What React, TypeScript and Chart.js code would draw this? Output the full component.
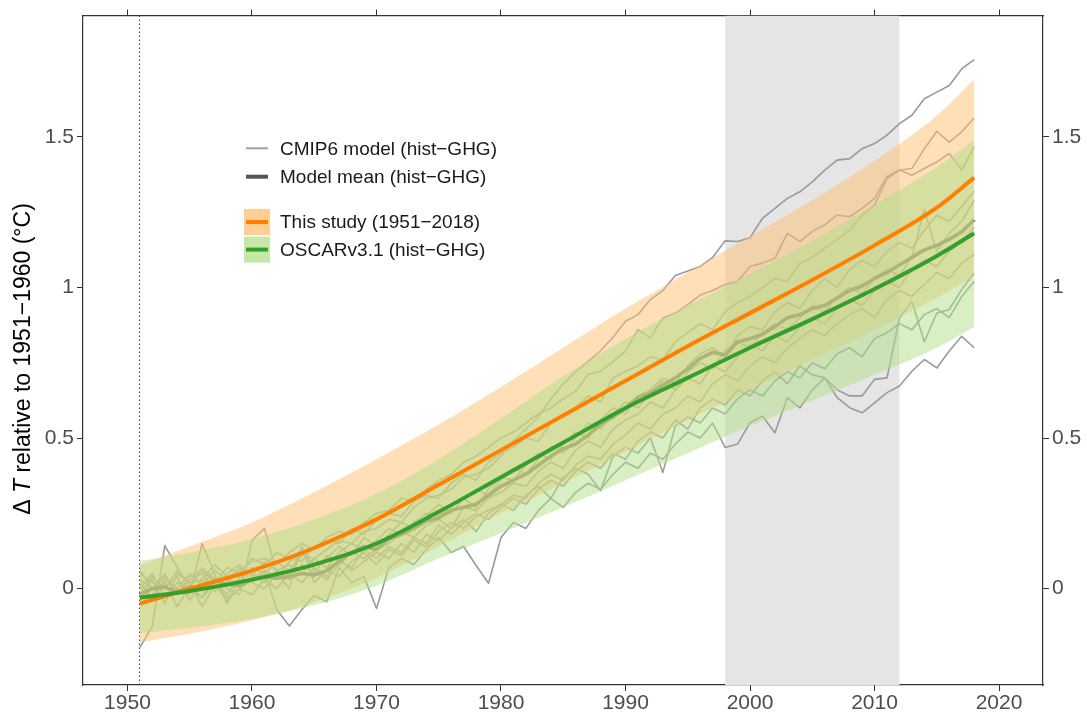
import React, { useEffect, useRef } from "react";
import { Chart, registerables } from "chart.js";

Chart.register(...registerables);

// ---- axes ----
const X_MIN = 1946.43;
const X_MAX = 2023.53;
const Y_MIN = -0.32;
const Y_MAX = 1.903;
const xTicks = [1950, 1960, 1970, 1980, 1990, 2000, 2010, 2020];
const yTicks = [0, 0.5, 1, 1.5];
const yTickLabels = ["0", "0.5", "1", "1.5"];

// reference period start and the 1998–2012 hiatus window
const referenceStart = 1951;
const hiatusStart = 1998;
const hiatusEnd = 2012;

// ---- annual CMIP6 hist-GHG model runs, 1951–2018 ----
const modelYears = Array.from({ length: 68 }, (_, i) => 1951 + i);

const cmipA = [
  0.02, -0.03, 0.03, 0.0, 0.05, 0.01, 0.06, 0.03, 0.02, 0.07,
  0.05, 0.09, 0.06, 0.11, 0.1, 0.13, 0.16, 0.15, 0.19, 0.2,
  0.23, 0.22, 0.27, 0.3, 0.31, 0.33, 0.37, 0.38, 0.4, 0.44,
  0.49, 0.53, 0.57, 0.63, 0.68, 0.72, 0.755, 0.79, 0.835, 0.888,
  0.91, 0.96, 0.99, 1.04, 1.055, 1.07, 1.1, 1.155, 1.153, 1.165,
  1.23, 1.263, 1.296, 1.318, 1.351, 1.39, 1.423, 1.428, 1.461, 1.478,
  1.506, 1.544, 1.572, 1.627, 1.649, 1.671, 1.726, 1.757,
];
const cmipB = [
  -0.02, 0.04, 0.0, 0.06, 0.02, 0.03, 0.08, 0.04, 0.06, 0.09,
  0.1, 0.08, 0.12, 0.15, 0.13, 0.17, 0.19, 0.18, 0.22, 0.25,
  0.26, 0.3, 0.29, 0.33, 0.36, 0.38, 0.42, 0.44, 0.47, 0.5,
  0.52, 0.55, 0.58, 0.6, 0.63, 0.656, 0.711, 0.722, 0.755, 0.789,
  0.86, 0.833, 0.899, 0.915, 0.943, 0.975, 0.99, 1.01, 1.02, 1.07,
  1.081, 1.097, 1.18, 1.153, 1.186, 1.208, 1.241, 1.235, 1.263, 1.296,
  1.368, 1.39, 1.395, 1.461, 1.519, 1.483, 1.517, 1.563,
];
const cmipC = [
  0.03, 0.0, 0.05, -0.02, 0.04, 0.06, 0.02, 0.07, 0.05, 0.1,
  0.08, 0.12, 0.1, 0.09, 0.14, 0.16, 0.15, 0.2, 0.18, 0.23,
  0.25, 0.24, 0.29, 0.31, 0.3, 0.35, 0.38, 0.36, 0.42, 0.45,
  0.47, 0.5, 0.49, 0.55, 0.58, 0.6, 0.64, 0.62, 0.7, 0.72,
  0.74, 0.77, 0.76, 0.82, 0.85, 0.88, 0.86, 0.92, 0.95, 0.97,
  1.0, 1.03, 1.02, 1.08, 1.1, 1.13, 1.16, 1.19, 1.241, 1.274,
  1.362, 1.39, 1.373, 1.395, 1.417, 1.445, 1.39, 1.467,
];
const cmipD = [
  0.0, 0.05, -0.03, 0.02, 0.0, 0.07, 0.03, -0.02, 0.04, 0.05,
  0.02, 0.06, 0.08, 0.05, 0.1, 0.07, 0.12, 0.15, 0.13, 0.16,
  0.2, 0.18, 0.22, 0.25, 0.24, 0.28, 0.3, 0.27, 0.33, 0.37,
  0.36, 0.41, 0.45, 0.43, 0.48, 0.52, 0.5, 0.56, 0.6, 0.58,
  0.64, 0.66, 0.7, 0.68, 0.74, 0.78, 0.8, 0.77, 0.84, 0.87,
  0.86, 0.92, 0.95, 0.93, 0.99, 1.03, 1.0, 1.06, 1.09, 1.07,
  1.12, 1.15, 1.13, 1.19, 1.24, 1.22, 1.27, 1.32,
];
const cmipE = [
  0.05, 0.02, 0.0, 0.04, -0.04, 0.03, 0.0, 0.05, 0.08, 0.02,
  0.06, 0.04, 0.09, 0.12, 0.08, 0.1, 0.14, 0.11, 0.17, 0.14,
  0.18, 0.22, 0.2, 0.24, 0.28, 0.25, 0.3, 0.33, 0.31, 0.36,
  0.4, 0.38, 0.43, 0.47, 0.45, 0.5, 0.55, 0.53, 0.58, 0.62,
  0.6, 0.65, 0.69, 0.66, 0.72, 0.75, 0.73, 0.79, 0.82, 0.8,
  0.85, 0.88, 0.86, 0.9, 0.94, 0.92, 0.97, 1.0, 0.98, 1.03,
  1.06, 1.04, 1.1, 1.26, 1.12, 1.18, 1.22, 1.29,
];
const cmipF = [
  -0.05, -0.02, 0.02, -0.06, 0.01, -0.03, 0.04, 0.0, -0.02, 0.16,
  0.2, 0.05, 0.0, 0.14, 0.06, 0.03, 0.08, 0.12, 0.1, 0.13,
  0.15, 0.19, 0.17, 0.21, 0.23, 0.2, 0.27, 0.26, 0.3, 0.32,
  0.35, 0.34, 0.39, 0.42, 0.4, 0.46, 0.49, 0.47, 0.53, 0.56,
  0.58, 0.62, 0.6, 0.66, 0.7, 0.68, 0.74, 0.72, 0.77, 0.81,
  0.79, 0.84, 0.82, 0.87, 0.9, 0.88, 0.93, 0.96, 0.94, 0.99,
  1.02, 1.0, 1.06, 1.09, 1.07, 1.12, 1.15, 1.2,
];
const cmipG = [
  0.01, -0.04, 0.03, 0.0, -0.02, 0.149, 0.05, -0.05, 0.04, 0.02,
  0.0, 0.05, 0.03, 0.14, 0.02, 0.06, 0.04, 0.09, 0.12, 0.08,
  0.13, 0.11, 0.16, 0.14, 0.19, 0.22, 0.2, 0.24, 0.26, 0.28,
  0.31, 0.3, 0.35, 0.38, 0.36, 0.41, 0.44, 0.43, 0.48, 0.51,
  0.55, 0.53, 0.58, 0.6, 0.64, 0.62, 0.68, 0.71, 0.69, 0.74,
  0.77, 0.75, 0.8, 0.83, 0.86, 0.84, 0.88, 0.91, 0.93, 0.9,
  0.96, 0.99, 0.97, 1.01, 1.05, 1.03, 1.08, 1.11,
];
const cmipH = [
  -0.03, 0.03, -0.05, 0.05, 0.02, -0.06, 0.01, -0.03, 0.0, -0.02,
  0.03, 0.0, 0.05, 0.02, 0.07, 0.04, 0.1, 0.06, 0.09, 0.12,
  0.1, 0.15, 0.12, 0.18, 0.16, 0.2, 0.23, 0.19, 0.25, 0.28,
  0.26, 0.31, 0.34, 0.3, 0.37, 0.4, 0.38, 0.325, 0.44, 0.47,
  0.45, 0.5, 0.386, 0.54, 0.57, 0.55, 0.6, 0.58, 0.63, 0.66,
  0.64, 0.69, 0.72, 0.7, 0.75, 0.73, 0.78, 0.8, 0.77, 0.83,
  0.85, 0.88, 0.86, 0.91, 0.93, 0.9, 0.97, 1.02,
];
const cmipI = [
  0.06, 0.0, 0.04, -0.02, 0.03, 0.05, -0.01, 0.02, 0.07, 0.04,
  0.09, 0.06, 0.03, 0.08, 0.05, 0.11, 0.09, 0.07, 0.13, 0.1,
  0.14, 0.12, 0.17, 0.15, 0.21, 0.18, 0.22, 0.25, 0.23, 0.27,
  0.3, 0.28, 0.33, 0.36, 0.34, 0.39, 0.42, 0.4, 0.45, 0.43,
  0.49, 0.52, 0.5, 0.56, 0.53, 0.6, 0.63, 0.61, 0.66, 0.64,
  0.69, 0.72, 0.68, 0.74, 0.71, 0.7, 0.66, 0.64, 0.64, 0.695,
  0.7, 0.899, 0.954, 0.82, 0.915, 0.927, 0.993, 1.048,
];
const cmipJ = [
  -0.195, -0.125, 0.143, 0.07, 0.0, -0.03, 0.02, -0.04, 0.0, 0.03,
  0.06, -0.07, -0.124, -0.07, -0.022, -0.044, 0.07, 0.02, 0.04, -0.066,
  0.07, 0.1, 0.08, 0.13, 0.17, 0.12, 0.14, 0.077, 0.018, 0.17,
  0.22, 0.2, 0.26, 0.3, 0.27, 0.32, 0.35, 0.33, 0.38, 0.42,
  0.4, 0.45, 0.43, 0.48, 0.52, 0.5, 0.55, 0.469, 0.48, 0.551,
  0.573, 0.518, 0.634, 0.6, 0.66, 0.7, 0.634, 0.601, 0.584, 0.617,
  0.651, 0.673, 0.722, 0.761, 0.733, 0.789, 0.838, 0.8,
];
const cmipRuns = [cmipA, cmipB, cmipC, cmipD, cmipE, cmipF, cmipG, cmipH, cmipI, cmipJ];

const modelMean = [
  -0.02, 0.0, 0.005, -0.01, 0.005, 0.0, 0.027, 0.015, 0.01, 0.03,
  0.04, 0.035, 0.04, 0.05, 0.045, 0.06, 0.09, 0.12, 0.14, 0.13,
  0.165, 0.18, 0.2, 0.225, 0.235, 0.26, 0.27, 0.28, 0.31, 0.34,
  0.36, 0.38, 0.41, 0.44, 0.465, 0.48, 0.51, 0.545, 0.57, 0.6,
  0.635, 0.65, 0.675, 0.7, 0.73, 0.765, 0.785, 0.775, 0.82, 0.83,
  0.845, 0.87, 0.9, 0.91, 0.93, 0.94, 0.965, 0.99, 1.005, 1.03,
  1.05, 1.075, 1.1, 1.125, 1.14, 1.16, 1.185, 1.225,
];

// ---- smooth estimates (knots) ----
const curveYears = [1951, 1955, 1960, 1965, 1970, 1975, 1980, 1985, 1990, 1995, 2000, 2005, 2010, 2015, 2018];

const thisStudyMid = [-0.05, 0.0, 0.06, 0.135, 0.23, 0.345, 0.46, 0.575, 0.69, 0.805, 0.915, 1.025, 1.14, 1.265, 1.365];
const thisStudyHigh = [0.078, 0.14, 0.22, 0.32, 0.43, 0.545, 0.67, 0.8, 0.93, 1.05, 1.17, 1.29, 1.42, 1.57, 1.691];
const thisStudyLow = [-0.178, -0.15, -0.105, -0.045, 0.035, 0.14, 0.25, 0.35, 0.455, 0.56, 0.66, 0.76, 0.86, 0.965, 1.037];

const oscarMid = [-0.03, -0.008, 0.03, 0.08, 0.15, 0.255, 0.37, 0.485, 0.6, 0.7, 0.8, 0.895, 0.995, 1.105, 1.18];
const oscarHigh = [0.092, 0.12, 0.165, 0.23, 0.315, 0.43, 0.565, 0.705, 0.83, 0.94, 1.045, 1.155, 1.275, 1.4, 1.49];
const oscarLow = [-0.148, -0.13, -0.1, -0.055, 0.01, 0.1, 0.185, 0.27, 0.36, 0.45, 0.54, 0.625, 0.71, 0.8, 0.87];

const legendLabels = [
  "CMIP6 model (hist\u2212GHG)",
  "Model mean (hist\u2212GHG)",
  "This study (1951\u22122018)",
  "OSCARv3.1 (hist\u2212GHG)",
];

// ---- styles ----
const FONT = "'Liberation Sans', Arial, Helvetica, sans-serif";
const AXIS_DARK = "#333333";
const TICK_TEXT = "#4d4d4d";
const MODEL_GREY = "#9a9a9a";
const MEAN_GREY = "#555555";
const ORANGE = "#ff7f00";
const GREEN = "#33a02c";
const ORANGE_BAND = "rgba(253,191,111,0.5)";
const GREEN_BAND = "rgba(178,223,138,0.5)";
const ORANGE_KEY = "rgba(253,191,111,0.75)";
const GREEN_KEY = "rgba(178,223,138,0.75)";
const HIATUS_FILL = "#e5e5e5";

const toPoints = (xs: number[], ys: number[]) => ys.map((y, i) => ({ x: xs[i], y }));

const smooth = { tension: 0.4, cubicInterpolationMode: "monotone" as const };

const decorations = {
  id: "decorations",
  beforeDatasetsDraw(chart: any) {
    const { ctx, chartArea, scales } = chart;
    const x = scales.x;
    ctx.save();
    ctx.beginPath();
    ctx.rect(chartArea.left, chartArea.top, chartArea.right - chartArea.left, chartArea.bottom - chartArea.top);
    ctx.clip();
    // hiatus window
    const x0 = x.getPixelForValue(hiatusStart);
    const x1 = x.getPixelForValue(hiatusEnd);
    ctx.fillStyle = HIATUS_FILL;
    ctx.fillRect(x0, chartArea.top, x1 - x0, chartArea.bottom - chartArea.top);
    // start of the reference period
    const xr = Math.round(x.getPixelForValue(referenceStart)) - 0.5;
    ctx.strokeStyle = "#444444";
    ctx.lineWidth = 1.1;
    ctx.setLineDash([1.4, 2.6]);
    ctx.beginPath();
    ctx.moveTo(xr, chartArea.top);
    ctx.lineTo(xr, chartArea.bottom);
    ctx.stroke();
    ctx.restore();
  },
  afterDraw(chart: any) {
    const { ctx } = chart;
    ctx.save();

    // legend
    const rows = [
      { y: 148.3, kind: "line", color: "#a0a0a0", width: 2 },
      { y: 176.7, kind: "line", color: MEAN_GREY, width: 4 },
      { y: 222, kind: "box", fill: ORANGE_KEY, color: ORANGE, width: 4 },
      { y: 249.6, kind: "box", fill: GREEN_KEY, color: GREEN, width: 4 },
    ];
    rows.forEach((r, i) => {
      if (r.kind === "box") {
        ctx.fillStyle = (r as any).fill;
        ctx.fillRect(244, r.y - 13, 26, 26);
      }
      ctx.strokeStyle = r.color;
      ctx.lineWidth = r.width;
      ctx.lineCap = "butt";
      ctx.beginPath();
      ctx.moveTo(246, r.y);
      ctx.lineTo(268, r.y);
      ctx.stroke();
      ctx.fillStyle = "#1a1a1a";
      ctx.font = `19px ${FONT}`;
      ctx.textAlign = "left";
      ctx.textBaseline = "middle";
      ctx.fillText(legendLabels[i], 280, r.y + 1);
    });

    // y-axis title: ΔT relative to 1951−1960 (°C)
    ctx.translate(24, 359);
    ctx.rotate(-Math.PI / 2);
    ctx.fillStyle = "#000000";
    ctx.textBaseline = "middle";
    ctx.textAlign = "left";
    const normal = `23px ${FONT}`;
    const italic = `italic 23px ${FONT}`;
    const parts: [string, string][] = [
      ["\u0394 ", normal],
      ["T", italic],
      [" relative to 1951\u22121960 (\u00B0C)", normal],
    ];
    let total = 0;
    parts.forEach(([t, f]) => {
      ctx.font = f;
      total += ctx.measureText(t).width;
    });
    let cx = -total / 2;
    parts.forEach(([t, f]) => {
      ctx.font = f;
      ctx.fillText(t, cx, 0);
      cx += ctx.measureText(t).width;
    });
    ctx.restore();
  },
};

export default function App() {
  const canvasRef = useRef<HTMLCanvasElement | null>(null);

  useEffect(() => {
    if (!canvasRef.current) return;
    Chart.defaults.font.family = FONT;

    const modelSets = cmipRuns.map((run, k) => ({
      label: `cmip6-${k}`,
      data: toPoints(modelYears, run),
      borderColor: MODEL_GREY,
      borderWidth: 1.6,
      pointRadius: 0,
      fill: false,
      borderJoinStyle: "round" as const,
      order: 6,
    }));

    const datasets: any[] = [
      ...modelSets,
      {
        label: "Model mean (hist-GHG)",
        data: toPoints(modelYears, modelMean),
        borderColor: MEAN_GREY,
        borderWidth: 3.6,
        pointRadius: 0,
        fill: false,
        borderJoinStyle: "round",
        order: 5,
      },
      {
        label: "This study upper",
        data: toPoints(curveYears, thisStudyHigh),
        borderWidth: 0,
        borderColor: "rgba(0,0,0,0)",
        pointRadius: 0,
        backgroundColor: ORANGE_BAND,
        fill: "+1",
        order: 4,
        ...smooth,
      },
      {
        label: "This study lower",
        data: toPoints(curveYears, thisStudyLow),
        borderWidth: 0,
        borderColor: "rgba(0,0,0,0)",
        pointRadius: 0,
        fill: false,
        order: 4,
        ...smooth,
      },
      {
        label: "OSCAR upper",
        data: toPoints(curveYears, oscarHigh),
        borderWidth: 0,
        borderColor: "rgba(0,0,0,0)",
        pointRadius: 0,
        backgroundColor: GREEN_BAND,
        fill: "+1",
        order: 3,
        ...smooth,
      },
      {
        label: "OSCAR lower",
        data: toPoints(curveYears, oscarLow),
        borderWidth: 0,
        borderColor: "rgba(0,0,0,0)",
        pointRadius: 0,
        fill: false,
        order: 3,
        ...smooth,
      },
      {
        label: "This study (1951-2018)",
        data: toPoints(curveYears, thisStudyMid),
        borderColor: ORANGE,
        borderWidth: 4,
        pointRadius: 0,
        fill: false,
        order: 2,
        ...smooth,
      },
      {
        label: "OSCARv3.1 (hist-GHG)",
        data: toPoints(curveYears, oscarMid),
        borderColor: GREEN,
        borderWidth: 4,
        pointRadius: 0,
        fill: false,
        order: 1,
        ...smooth,
      },
    ];

    const tickGrid = {
      drawOnChartArea: false,
      drawTicks: true,
      tickLength: 6,
      color: AXIS_DARK,
      lineWidth: 1,
    };
    const frame = { display: true, color: AXIS_DARK, width: 1.2 };
    const setX = (s: any) => {
      s.ticks = xTicks.map((v) => ({ value: v }));
    };
    const setY = (s: any) => {
      s.ticks = yTicks.map((v) => ({ value: v }));
    };
    const yLabel = (v: any) => {
      const i = yTicks.indexOf(Number(v));
      return i >= 0 ? yTickLabels[i] : "";
    };

    const chart = new Chart(canvasRef.current, {
      type: "line",
      data: { datasets },
      plugins: [decorations],
      options: {
        animation: false,
        responsive: false,
        devicePixelRatio: 1,
        layout: { padding: 0 },
        plugins: {
          legend: { display: false },
          tooltip: { enabled: false },
          filler: { propagate: false },
        },
        scales: {
          x: {
            type: "linear",
            axis: "x",
            position: "bottom",
            min: X_MIN,
            max: X_MAX,
            afterBuildTicks: setX,
            afterFit: (s: any) => {
              s.height = 30;
            },
            ticks: {
              color: TICK_TEXT,
              font: { size: 21 },
              padding: 0,
              maxRotation: 0,
              autoSkip: false,
              callback: (v: any) => String(v),
            },
            grid: tickGrid,
            border: frame,
          },
          xTop: {
            type: "linear",
            axis: "x",
            position: "top",
            min: X_MIN,
            max: X_MAX,
            afterBuildTicks: setX,
            afterFit: (s: any) => {
              s.height = 13;
            },
            ticks: { display: false },
            grid: tickGrid,
            border: frame,
          },
          y: {
            type: "linear",
            axis: "y",
            position: "left",
            min: Y_MIN,
            max: Y_MAX,
            afterBuildTicks: setY,
            afterFit: (s: any) => {
              s.width = 83;
            },
            ticks: {
              color: TICK_TEXT,
              font: { size: 21 },
              padding: 3,
              callback: yLabel,
            },
            grid: tickGrid,
            border: frame,
          },
          yRight: {
            type: "linear",
            axis: "y",
            position: "right",
            min: Y_MIN,
            max: Y_MAX,
            afterBuildTicks: setY,
            afterFit: (s: any) => {
              s.width = 44;
            },
            ticks: {
              color: TICK_TEXT,
              font: { size: 21 },
              padding: 3,
              callback: yLabel,
            },
            grid: tickGrid,
            border: frame,
          },
        },
      } as any,
    });

    return () => chart.destroy();
  }, []);

  return (
    <div style={{ position: "absolute", left: 0, top: 0, width: 1087, height: 715, background: "#ffffff" }}>
      <canvas ref={canvasRef} width={1087} height={715} style={{ display: "block" }} />
    </div>
  );
}
